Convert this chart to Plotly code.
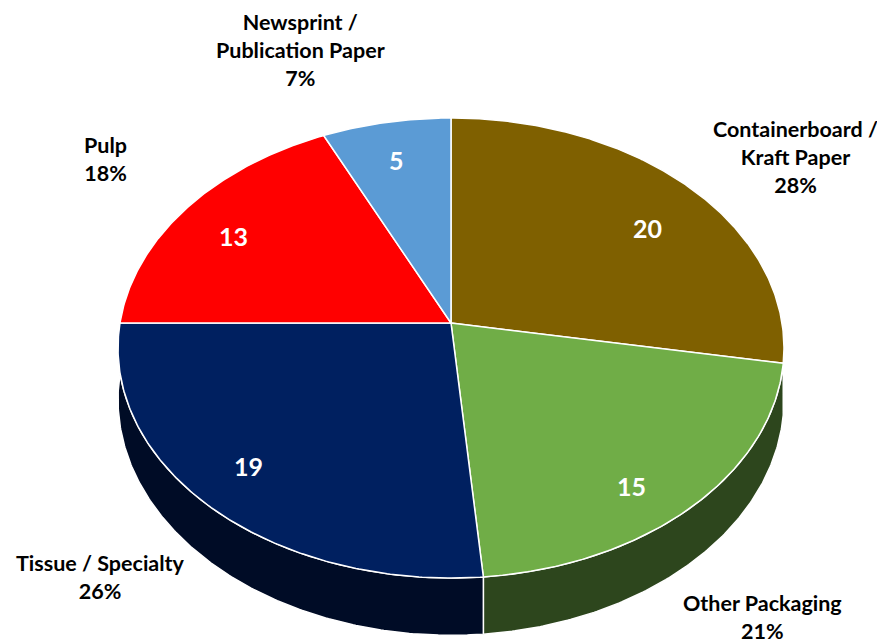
import math
import plotly.graph_objects as go

# ---- data ----
categories = ["Containerboard /<br>Kraft Paper", "Other Packaging", "Tissue / Specialty",
              "Pulp", "Newsprint /<br>Publication Paper"]
values = [20, 15, 19, 13, 5]
top_colors = ["#7F6000", "#70AD47", "#002060", "#FF0000", "#5B9BD5"]
side_colors = ["#4A3800", "#2D461D", "#000C26", "#8C0000", "#2F5A84"]

# ---- geometry (pixel space), perspective-tilted pie ----
PAGE_W, PAGE_H = 885, 643
OFF = 8  # default body margin of the page
CX, CY = 451, 323
R = 331
RY = 227.3
P = 0.1087
DEPTH = 51


def proj(theta_deg, f=1.0, drop=0.0):
    t = math.radians(theta_deg)
    z = -math.cos(t)
    k = 1.0 / (1.0 - P * z)
    x = CX + R * f * math.sin(t) * k
    y = CY + RY * f * z * k + drop * k
    return x, y


total = sum(values)
starts, ends = [], []
acc = 0.0
for v in values:
    starts.append(acc / total * 360.0)
    acc += v
    ends.append(acc / total * 360.0)

fig = go.Figure()


def arc(a0, a1, drop=0.0):
    n = max(2, int(abs(a1 - a0) * 2) + 2)
    return [proj(a0 + (a1 - a0) * i / (n - 1), 1.0, drop) for i in range(n)]


# sides (front half only: 90..270 deg)
for i, v in enumerate(values):
    a0, a1 = max(starts[i], 90), min(ends[i], 270)
    if a1 <= a0:
        continue
    top = arc(a0, a1)
    bot = arc(a0, a1, DEPTH)[::-1]
    pts = top + bot + [top[0]]
    fig.add_trace(go.Scatter(x=[p[0] for p in pts], y=[p[1] for p in pts], mode="lines",
                             fill="toself", fillcolor=side_colors[i],
                             line=dict(color="white", width=1.5), hoverinfo="skip"))

# top face
for i, v in enumerate(values):
    pts = [(CX, CY)] + arc(starts[i], ends[i]) + [(CX, CY)]
    fig.add_trace(go.Scatter(x=[p[0] for p in pts], y=[p[1] for p in pts], mode="lines",
                             fill="toself", fillcolor=top_colors[i],
                             line=dict(color="white", width=1.5), hoverinfo="skip"))

# value labels inside
value_pos = [(647, 228), (631, 486), (248, 466), (233, 236), (396, 160)]
for i, v in enumerate(values):
    fig.add_annotation(x=value_pos[i][0], y=value_pos[i][1], text=f"<b>{v}</b>", showarrow=False,
                       font=dict(family="Lato", size=25, color="white"))

# category labels outside
label_pos = [(795, 157), (762, 617), (100, 577), (105, 159), (300, 50)]
for i, v in enumerate(values):
    pct = round(v / total * 100)
    fig.add_annotation(x=label_pos[i][0], y=label_pos[i][1],
                       text=f"<b>{categories[i]}<br>{pct}%</b>", showarrow=False,
                       font=dict(family="Lato", size=21.5, color="black"), align="center")

fig.update_layout(
    width=PAGE_W - OFF, height=PAGE_H - OFF, margin=dict(l=0, r=0, t=0, b=0),
    paper_bgcolor="white", plot_bgcolor="white", showlegend=False,
    xaxis=dict(range=[OFF, PAGE_W], visible=False, fixedrange=True),
    yaxis=dict(range=[PAGE_H, OFF], visible=False, fixedrange=True),
)
fig.write_html("out.html")
